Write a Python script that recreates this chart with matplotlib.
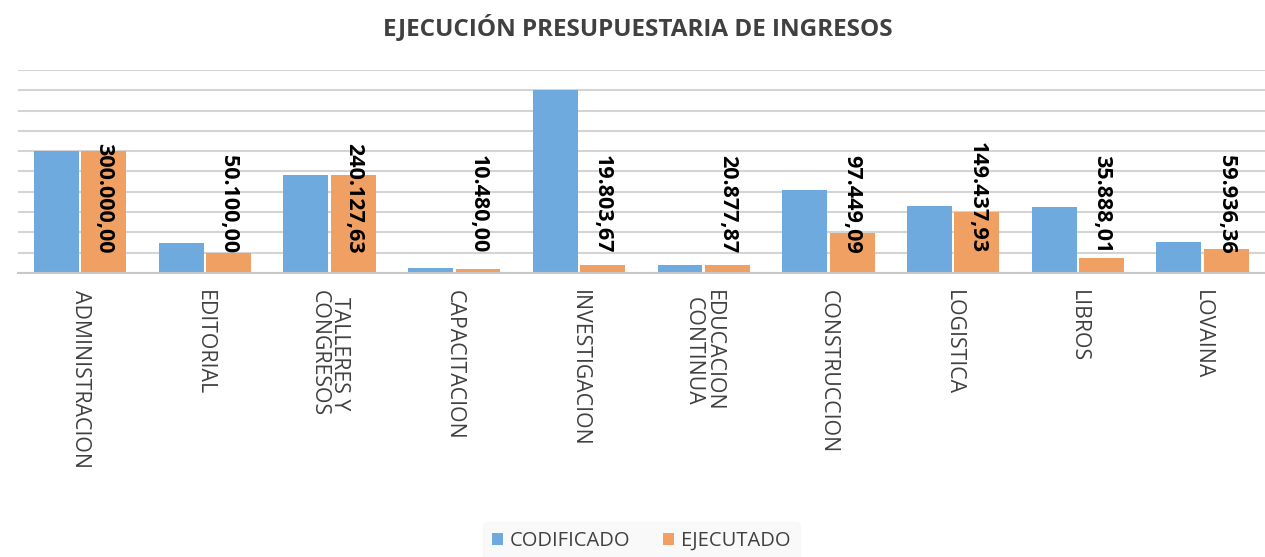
import numpy as np
import matplotlib
matplotlib.use("Agg")
import matplotlib.pyplot as plt

plt.rcParams['font.family'] = ['Open Sans', 'DejaVu Sans']

# data
categorias = ["ADMINISTRACION", "EDITORIAL", "TALLERES Y\nCONGRESOS", "CAPACITACION",
              "INVESTIGACION", "EDUCACION\nCONTINUA", "CONSTRUCCION", "LOGISTICA",
              "LIBROS", "LOVAINA"]
codificado = [300000, 73000, 242000, 12000, 450000, 19000, 204000, 166000, 162000, 77000]
ejecutado = [300000.00, 50100.00, 240127.63, 10480.00, 19803.67, 20877.87,
             97449.09, 149437.93, 35888.01, 59936.36]

def fmt(v):
    # spanish number format 1.234,56
    s = f"{v:,.2f}"
    return s.replace(",", "X").replace(".", ",").replace("X", ".")

fig = plt.figure(figsize=(12.65, 5.57), dpi=100)
ax = fig.add_axes([0.014, 0.5099, 0.986, 0.3645])

x = np.arange(len(categorias))
w = 0.36
blue = "#6FAADF"
orange = "#F0A062"

ax.set_axisbelow(True)
ax.yaxis.grid(True, color="#d4d4d4", linewidth=1.5)
ax.bar(x - w / 2 - 0.01, codificado, w, color=blue, label="CODIFICADO")
ax.bar(x + w / 2 + 0.01, ejecutado, w, color=orange, label="EJECUTADO")

for xi, v in zip(x, ejecutado):
    ax.annotate(fmt(v), xy=(xi + w / 2 + 0.01, 0), xytext=(0, 14),
                textcoords="offset points", rotation=-90, ha="center", va="bottom",
                fontsize=15.5, fontweight="bold", color="black")

ax.set_xlim(-0.5, len(categorias) - 0.5)
ax.set_ylim(0, 500000)
ax.set_yticks(np.arange(0, 500001, 50000))
ax.tick_params(axis="y", left=False, labelleft=False)
ax.tick_params(axis="x", bottom=False, pad=9)
ax.set_xticks(x)
ax.set_xticklabels(categorias, rotation=-90, va="top", ha="center",
                   fontsize=15.3, color="#404040", linespacing=0.95)
for s in ["top", "right", "left"]:
    ax.spines[s].set_visible(False)
ax.spines["bottom"].set_color("#c8c8c8")
ax.spines["bottom"].set_linewidth(1.5)

fig.text(0.504, 0.951, "EJECUCIÓN PRESUPUESTARIA DE INGRESOS", ha="center", va="center",
         fontsize=17.5, fontweight="bold", color="#404040")

leg = fig.legend(loc="center", bbox_to_anchor=(0.507, 0.029), ncol=2, frameon=True,
                 fontsize=14.5, handlelength=0.55, handleheight=0.55, handletextpad=0.35,
                 columnspacing=1.6, borderpad=0.45)
leg.get_frame().set_facecolor("#f8f8f8")
leg.get_frame().set_edgecolor("#f8f8f8")
for t in leg.get_texts():
    t.set_color("#404040")

fig.savefig("out.png", dpi=100)
